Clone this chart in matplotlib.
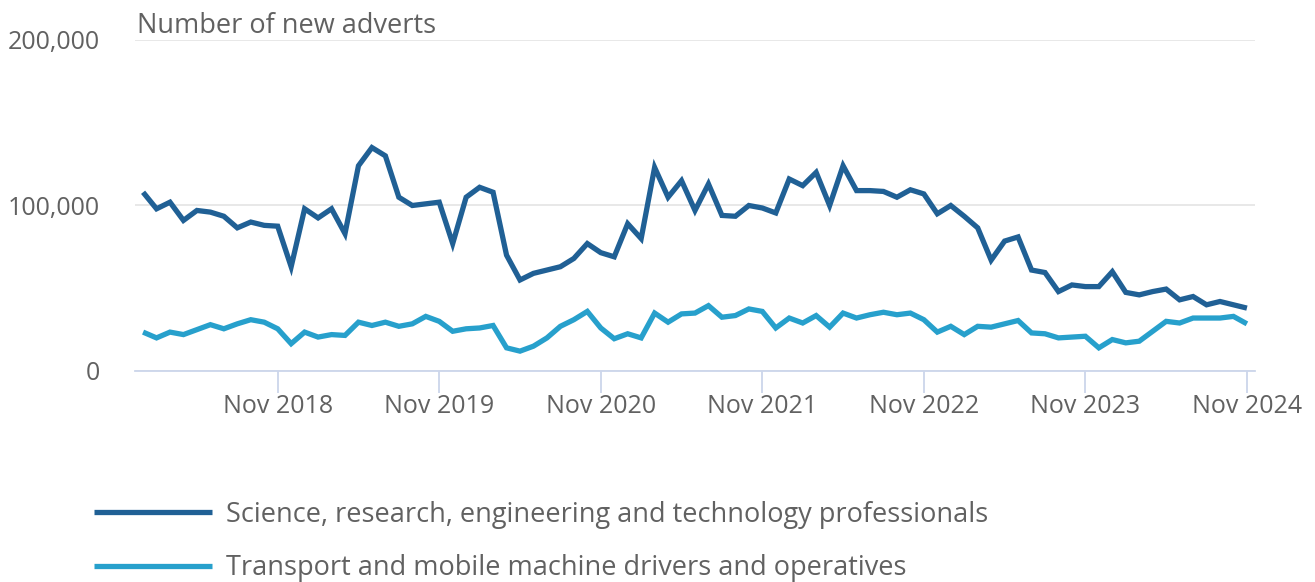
import matplotlib
matplotlib.use("Agg")
import matplotlib.pyplot as plt
import pandas as pd
from matplotlib.ticker import FuncFormatter

plt.rcParams['font.family'] = ['Open Sans', 'DejaVu Sans']

months = pd.date_range("2018-01-01", "2024-11-01", freq="MS")

science = [
    108, 98, 102, 91, 97, 96, 93.5, 86.5, 90, 88, 87.5, 63,
    98, 92.5, 98, 83, 124, 135, 130, 105, 100, 101, 102, 77,
    105, 111, 108, 70, 55, 59, 61, 63, 68, 77, 71.5, 69,
    89, 80, 123, 105, 115, 97, 113, 94, 93.5, 100, 98.5, 95.5,
    116, 112, 120, 100, 124, 109, 109, 108.5, 105, 109.5, 107, 95,
    100, 93.5, 86.5, 67, 78.5, 81, 61, 59.5, 48, 52, 51, 51,
    60, 47.5, 46, 48, 49.5, 43, 45, 40, 42, 40, 38,
]
transport = [
    23.5, 20, 23.5, 22, 25, 28, 25.5, 28.5, 31, 29.5, 25.5, 16.5,
    23.5, 20.5, 22, 21.5, 29.5, 27.5, 29.5, 27, 28.5, 33, 30, 24,
    25.5, 26, 27.5, 14, 12, 15, 20, 27, 31, 36, 26, 19.5,
    22.5, 20, 35, 29.5, 34.5, 35, 39.5, 32.5, 33.5, 37.5, 36, 26,
    32, 29, 33.5, 26.5, 35, 32, 34, 35.5, 34, 35, 31, 23.5,
    27, 22, 27, 26.5, 28.5, 30.5, 23, 22.5, 20, 20.5, 21, 14,
    19, 17, 18, 24, 30, 29, 32, 32, 32, 33, 28.5,
]
science = [v * 1000 for v in science]
transport = [v * 1000 for v in transport]

series_names = [
    "Science, research, engineering and technology professionals",
    "Transport and mobile machine drivers and operatives",
]
colors = ["#206095", "#27a0cc"]
y_ticks = [0, 100000, 200000]
x_tick_labels = ["Nov 2018", "Nov 2019", "Nov 2020", "Nov 2021",
                 "Nov 2022", "Nov 2023", "Nov 2024"]
y_title = "Number of new adverts"

W, H = 1315, 582
fig = plt.figure(figsize=(W / 100, H / 100), dpi=100)
ax = fig.add_axes([135 / W, 1 - 371 / H, 1120 / W, 331 / H])

x = list(range(len(months)))
for vals, name, c in zip([science, transport], series_names, colors):
    ax.plot(x, vals, color=c, lw=3.8, label=name, solid_joinstyle='miter',
            solid_capstyle='butt', clip_on=False, zorder=3)

ax.set_xlim(-0.6, len(months) - 1 + 0.6)
ax.set_ylim(0, 200000)

tick_pos = [i for i, m in enumerate(months) if m.month == 11]
ax.set_xticks(tick_pos)
ax.set_xticklabels(x_tick_labels)
ax.set_yticks(y_ticks)
ax.yaxis.set_major_formatter(FuncFormatter(lambda v, p: f"{int(v):,}"))
for lab in ax.get_yticklabels():
    lab.set_verticalalignment('center_baseline')

text_color = "#616161"
ax.tick_params(axis='x', length=15.5, width=1.3, color="#ccd6eb",
               labelsize=18, labelcolor=text_color, pad=1)
ax.tick_params(axis='y', length=0, labelsize=18, labelcolor=text_color, pad=25)

for s in ['top', 'right', 'left']:
    ax.spines[s].set_visible(False)
ax.spines['bottom'].set_color("#ccd6eb")
ax.spines['bottom'].set_linewidth(1.3)
ax.grid(axis='y', color="#e6e6e6", lw=1.3)
ax.set_axisbelow(True)

fig.text(137 / W, 1 - 33 / H, y_title, fontsize=19.5, color=text_color,
         ha='left', va='baseline')

leg = fig.legend(loc='upper left', bbox_to_anchor=(83 / W, 1 - 490 / H),
                 frameon=False, fontsize=19.5, handlelength=4.35,
                 handletextpad=0.52, labelspacing=0.94, borderaxespad=0)
for t in leg.get_texts():
    t.set_color(text_color)
for l in leg.get_lines():
    l.set_linewidth(3.8)

fig.savefig("out.png", dpi=100)
